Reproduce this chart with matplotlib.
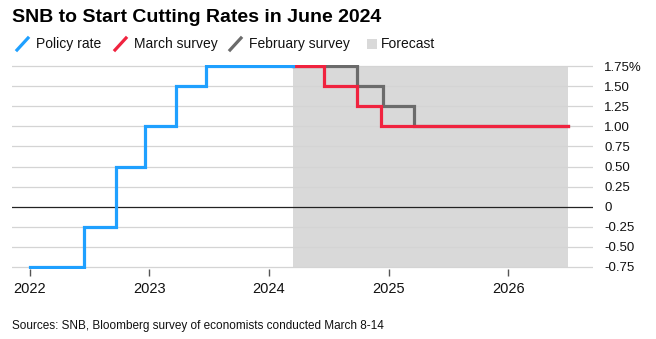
import matplotlib.pyplot as plt
from matplotlib.lines import Line2D
from matplotlib.patches import Rectangle
import numpy as np

plt.rcParams['font.family'] = ['Liberation Sans', 'DejaVu Sans']

# decimal-year dates and rates (%)
policy_x = [2022.0, 2022.45, 2022.72, 2022.96, 2023.22, 2023.47, 2024.2]
policy_y = [-0.75, -0.25, 0.50, 1.00, 1.50, 1.75, 1.75]

march_x = [2024.2, 2024.46, 2024.74, 2024.94, 2026.5]
march_y = [1.75, 1.50, 1.25, 1.00, 1.00]

feb_x = [2024.2, 2024.74, 2024.95, 2025.21, 2026.5]
feb_y = [1.75, 1.50, 1.25, 1.00, 1.00]

forecast_span = [2024.2, 2026.5]

yticks = [-0.75, -0.5, -0.25, 0, 0.25, 0.5, 0.75, 1.0, 1.25, 1.5, 1.75]
ytick_labels = ['-0.75', '-0.50', '-0.25', '0', '0.25', '0.50', '0.75',
                '1.00', '1.25', '1.50', '1.75%']
years = [2022, 2023, 2024, 2025, 2026]

BLUE = '#1fa0ff'
RED = '#f0233f'
GREY = '#6b6b6b'
SHADE = '#d9d9d9'

W, H = 656, 339
fig = plt.figure(figsize=(W / 100, H / 100), dpi=100)
ax = fig.add_axes([0.018, 0.2077, 0.886, 0.602])
ax.set_xlim(2021.85, 2026.71)
ax.set_ylim(-0.77, 1.77)

ax.add_patch(Rectangle((forecast_span[0], -0.75), forecast_span[1] - forecast_span[0],
                       2.5, color=SHADE, lw=0, zorder=0.5))

for t in yticks:
    if t == 0:
        ax.axhline(t, color='#222222', lw=0.9, zorder=1)
    else:
        ax.axhline(t, color='#d4d4d4', lw=0.9, zorder=1)

ax.step(feb_x, feb_y, where='post', color=GREY, lw=2.3, zorder=2,
        solid_joinstyle='miter')
ax.step(march_x, march_y, where='post', color=RED, lw=2.3, zorder=3,
        solid_joinstyle='miter')
ax.step(policy_x, policy_y, where='post', color=BLUE, lw=2.3, zorder=4,
        solid_joinstyle='miter')

for s in ax.spines.values():
    s.set_visible(False)

ax.yaxis.tick_right()
ax.set_yticks(yticks)
ax.set_yticklabels(ytick_labels)
ax.tick_params(axis='y', length=0, pad=8, labelsize=9.5, labelcolor='#111111')

ax.set_xticks(years)
ax.set_xticklabels([str(y) for y in years])
ax.tick_params(axis='x', length=5, width=1, color='#555555', pad=5,
               labelsize=10.5, labelcolor='#111111')

fig.text(12 / W, 1 - 18 / H, 'SNB to Start Cutting Rates in June 2024',
         fontsize=14, fontweight='bold', va='center', ha='left')

# legend: diagonal strokes / swatch followed by labels (pixel positions)
legend_items = [('Policy rate', BLUE, 'line', 17),
                ('March survey', RED, 'line', 115),
                ('February survey', GREY, 'line', 230),
                ('Forecast', SHADE, 'box', 367)]
ly = 44
for label, col, kind, px in legend_items:
    if kind == 'line':
        fig.add_artist(Line2D([px / W, (px + 11) / W],
                              [1 - (ly + 6) / H, 1 - (ly - 6) / H],
                              color=col, lw=2.3, transform=fig.transFigure))
        tx = px + 19
    else:
        fig.add_artist(Rectangle((px / W, 1 - (ly + 5) / H), 10 / W, 10 / H,
                                 color=col, lw=0, transform=fig.transFigure))
        tx = px + 14
    fig.text(tx / W, 1 - ly / H, label, fontsize=10, va='center', ha='left',
             color='#111111')

fig.text(12 / W, 1 - 326 / H,
         'Sources: SNB, Bloomberg survey of economists conducted March 8-14',
         fontsize=8.5, va='center', ha='left', color='#111111',
         family=['Liberation Sans Narrow', 'Liberation Sans'])

fig.savefig('out.png', dpi=100)
